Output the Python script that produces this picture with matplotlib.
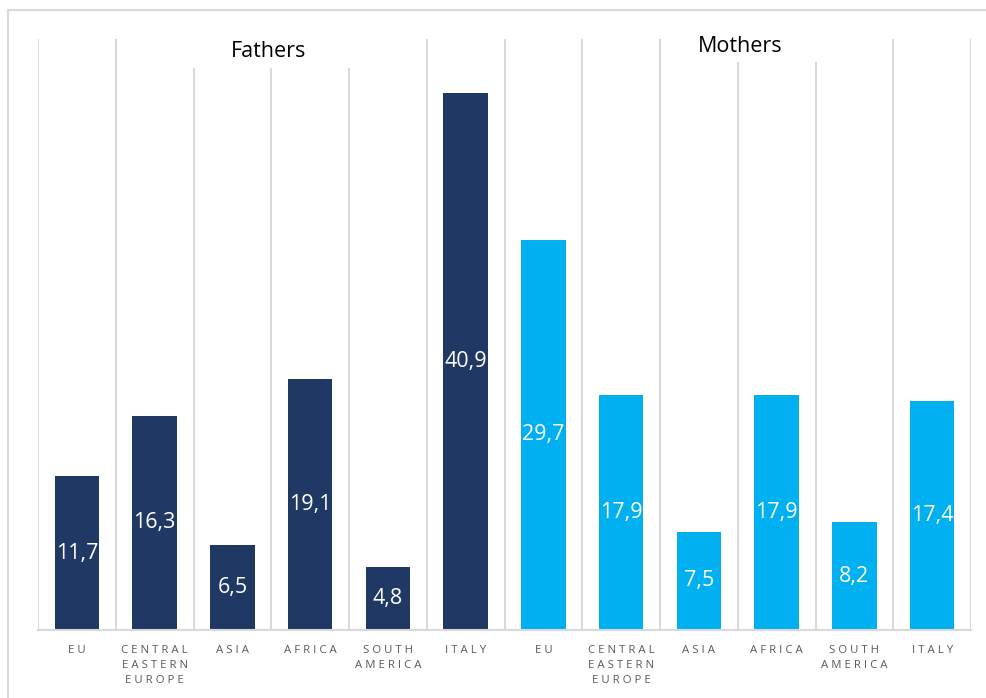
import matplotlib.pyplot as plt
from matplotlib.patches import Rectangle

plt.rcParams['font.family'] = ['Open Sans', 'DejaVu Sans']

# share of parents by origin (%)
regions = ['EU', 'CENTRAL\nEASTERN\nEUROPE', 'ASIA', 'AFRICA', 'SOUTH\nAMERICA', 'ITALY']
fathers = [11.7, 16.3, 6.5, 19.1, 4.8, 40.9]
mothers = [29.7, 17.9, 7.5, 17.9, 8.2, 17.4]
groups = ['Fathers', 'Mothers']

navy = '#203864'
cyan = '#00B0F0'
grid = '#d9d9d9'

W, H = 986, 698
fig = plt.figure(figsize=(W / 100, H / 100), dpi=100)
ax = fig.add_axes([38 / W, (H - 630) / H, (971 - 38) / W, (630 - 39) / H])

values = fathers + mothers
colors = [navy] * len(fathers) + [cyan] * len(mothers)
x = list(range(len(values)))

ax.set_xlim(-0.5, len(values) - 0.5)
ax.set_ylim(0, 45)

# separators between categories
ax.vlines([i - 0.5 for i in range(len(values) + 1)], 0, 45, color=grid, lw=1.5, zorder=0)

bars = ax.bar(x, values, width=0.57, color=colors, zorder=2)
for b, v in zip(bars, values):
    ax.text(b.get_x() + b.get_width() / 2, v / 2, f'{v:.1f}'.replace('.', ','),
            ha='center', va='center', color='white', fontsize=15.5, zorder=3)

# white boxes behind the group titles
ax.add_patch(Rectangle((1.33, 42.8), 2.3, 2.5, facecolor='white', edgecolor='none',
                       zorder=1, clip_on=False))
ax.add_patch(Rectangle((7.89, 43.26), 1.8, 2.0, facecolor='white', edgecolor='none',
                       zorder=1, clip_on=False))
ax.text(2.46, 45 - (57 - 39) / 13.13, groups[0], ha='center', va='baseline',
        fontsize=15.5, color='black', zorder=4)
ax.text(8.53, 45 - (52 - 39) / 13.13, groups[1], ha='center', va='baseline',
        fontsize=15.5, color='black', zorder=4)

spaced = ['\n'.join(' '.join(line) for line in r.split('\n')) for r in regions * 2]
ax.set_xticks(x)
ax.set_xticklabels(spaced, fontsize=8.2, color='#595959', linespacing=1.55)
ax.tick_params(axis='x', length=0, pad=10.5)
ax.set_yticks([])

for s in ['top', 'left', 'right']:
    ax.spines[s].set_visible(False)
ax.spines['bottom'].set_color(grid)
ax.spines['bottom'].set_linewidth(1.5)

# chart frame
fig.patches.append(Rectangle((8 / W, -0.05), 1.0, 1.05 - 10 / H, transform=fig.transFigure,
                             facecolor='none', edgecolor=grid, lw=1.5))

fig.savefig('out.png', dpi=100)
